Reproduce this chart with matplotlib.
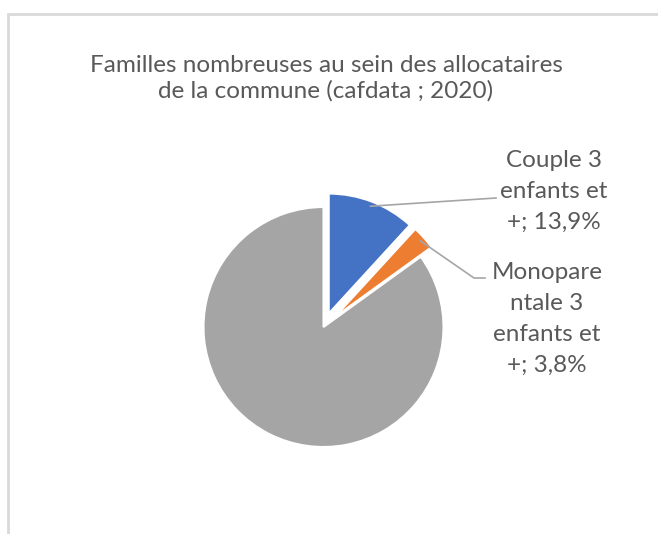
import numpy as np
import matplotlib.pyplot as plt
from matplotlib.patches import Rectangle

# Données (cafdata 2020)
categories = ["Couple 3 enfants et +", "Monoparentale 3 enfants et +", "Total allocataires"]
valeurs = [13.9, 3.8, 100.0]
etiquettes = ["Couple 3\nenfants et\n+; 13,9%", "Monopare\nntale 3\nenfants et\n+; 3,8%", None]
couleurs = ["#4472C4", "#ED7D31", "#A5A5A5"]
eclatement = [0.12, 0.12, 0]

W, H = 658, 534
texte = "#595959"
plt.rcParams['font.family'] = ['Lato', 'DejaVu Sans']

fig = plt.figure(figsize=(W / 100, H / 100), dpi=100)
ax = fig.add_axes([0, 0, 1, 1])

centre = (323.5, H - 327)
rayon = 120
# explode est en unités de données : on le multiplie par le rayon
wedges, _ = ax.pie(valeurs, colors=couleurs, startangle=90, counterclock=False,
                   radius=rayon, center=centre,
                   explode=[e * rayon for e in eclatement], frame=False,
                   wedgeprops=dict(edgecolor="white", linewidth=1.5))
ax.set_xlim(0, W)
ax.set_ylim(0, H)
ax.set_axis_off()

# Cadre du graphique (coordonnées pixels, origine en bas à gauche)
cadre = Rectangle((8, -100), 800, H - 14 + 100, fill=False,
                  edgecolor="#D9D9D9", linewidth=2)
cadre.set_transform(None)
fig.patches.append(cadre)

# Titre
ax.text(326, H - 78, "Familles nombreuses au sein des allocataires\nde la commune (cafdata ; 2020)",
        ha="center", va="center", fontsize=17.5, color=texte, linespacing=1.23)

# Lignes de rappel et étiquettes
fins = [[(496, H - 198)], [(474, H - 278), (485, H - 278)]]
pos_etiq = [(554, H - 191), (547, H - 319)]
for w, lab, fin, pos in zip(wedges, etiquettes, fins, pos_etiq):
    mid = np.deg2rad((w.theta1 + w.theta2) / 2)
    cx, cy = w.center
    x0 = cx + 0.96 * w.r * np.cos(mid)
    y0 = cy + 0.96 * w.r * np.sin(mid)
    xs = [x0] + [p[0] for p in fin]
    ys = [y0] + [p[1] for p in fin]
    ax.plot(xs, ys, color="#A6A6A6", linewidth=1.2)
    ax.text(pos[0], pos[1], lab, ha="center", va="center", fontsize=17.5,
            color=texte, linespacing=1.58)

fig.savefig("out.png", dpi=100)
